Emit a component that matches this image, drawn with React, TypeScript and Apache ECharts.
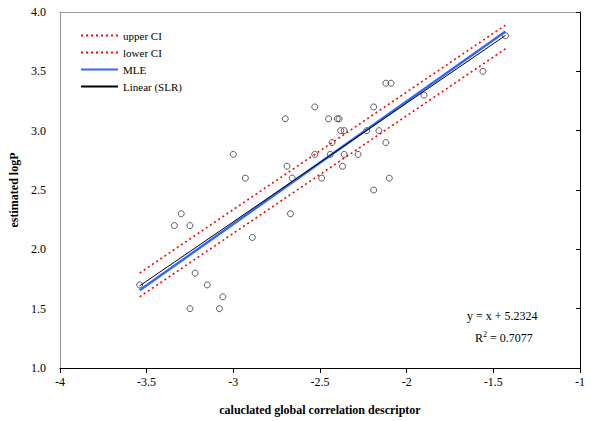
import React, { useEffect, useRef } from "react";
import * as echarts from "echarts";

const observedX = [
  -3.54, -3.30, -3.34, -3.25, -3.22, -3.15, -3.06, -3.25, -3.08, -3.00,
  -2.93, -2.89, -2.69, -2.66, -2.67, -2.70, -2.53, -2.53, -2.49, -2.45,
  -2.40, -2.39, -2.43, -2.44, -2.38, -2.36, -2.36, -2.37, -2.28, -2.23,
  -2.16, -2.19, -2.19, -2.12, -2.09, -2.12, -2.10, -1.90, -1.56, -1.43,
];
const observedY = [
  1.70, 2.30, 2.20, 2.20, 1.80, 1.70, 1.60, 1.50, 1.50, 2.80,
  2.60, 2.10, 2.70, 2.60, 2.30, 3.10, 3.20, 2.80, 2.60, 3.10,
  3.10, 3.10, 2.90, 2.80, 3.00, 3.00, 2.80, 2.70, 2.80, 3.00,
  3.00, 3.20, 2.50, 3.40, 3.40, 2.90, 2.60, 3.30, 3.50, 3.80,
];

const lineX = [-3.54, -1.43];
const upperCI = [1.80, 3.89];
const lowerCI = [1.60, 3.69];
const mle = [1.655, 3.835];
const slr = [1.692, 3.802];

const xTicks = [-4, -3.5, -3, -2.5, -2, -1.5, -1];
const yTicks = [1.0, 1.5, 2.0, 2.5, 3.0, 3.5, 4.0];

const equationText = "y = x + 5.2324";
const r2Value = "0.7077";

const FONT = "'Liberation Serif', 'Times New Roman', serif";

export default function App() {
  const ref = useRef<HTMLDivElement>(null);

  useEffect(() => {
    if (!ref.current) return;
    const chart = echarts.init(ref.current, undefined, { renderer: "svg" });
    const pairs = (ys: number[]) => lineX.map((x, i) => [x, ys[i]]);
    const scatter = observedX.map((x, i) => [x, observedY[i]]);

    chart.setOption({
      animation: false,
      backgroundColor: "#ffffff",
      textStyle: { fontFamily: FONT },
      grid: { left: 58, right: 11, top: 12, bottom: 52, containLabel: false },
      legend: {
        data: ["upper CI", "lower CI", "MLE", "Linear (SLR)"],
        orient: "vertical",
        left: 75,
        top: 25,
        itemWidth: 37,
        itemHeight: 12,
        itemGap: 6,
        itemStyle: { opacity: 0, borderWidth: 0 },
        textStyle: { fontFamily: FONT, fontSize: 11, color: "#000" },
      },
      xAxis: [
        {
          type: "value",
          min: xTicks[0],
          max: xTicks[xTicks.length - 1],
          interval: 0.5,
          name: "caluclated global correlation descriptor",
          nameLocation: "middle",
          nameGap: 36,
          nameTextStyle: { fontFamily: FONT, fontSize: 12, fontWeight: "bold", color: "#000" },
          axisLine: { show: true, lineStyle: { color: "#000", width: 1 } },
          axisTick: { show: true, inside: false, length: 5, lineStyle: { color: "#000" } },
          axisLabel: { fontFamily: FONT, fontSize: 12, color: "#000", margin: 8 },
          splitLine: { show: false },
        },
        {
          type: "value",
          position: "top",
          min: xTicks[0],
          max: xTicks[xTicks.length - 1],
          axisLine: { show: true, lineStyle: { color: "#999", width: 1 } },
          axisTick: { show: false },
          axisLabel: { show: false },
          splitLine: { show: false },
        },
      ],
      yAxis: [
        {
          type: "value",
          min: yTicks[0],
          max: yTicks[yTicks.length - 1],
          interval: 0.5,
          name: "estimated logP",
          nameLocation: "middle",
          nameGap: 28,
          nameRotate: 90,
          nameTextStyle: { fontFamily: FONT, fontSize: 12, fontWeight: "bold", color: "#000" },
          axisLine: { show: true, lineStyle: { color: "#999", width: 1 } },
          axisTick: { show: false },
          axisLabel: {
            fontFamily: FONT,
            fontSize: 12,
            color: "#000",
            margin: 14,
            formatter: (v: number) => v.toFixed(1),
          },
          splitLine: { show: false },
        },
        {
          type: "value",
          position: "right",
          min: yTicks[0],
          max: yTicks[yTicks.length - 1],
          interval: 0.5,
          axisLine: { show: true, lineStyle: { color: "#000", width: 1 } },
          axisTick: { show: true, inside: true, length: 4, lineStyle: { color: "#000" } },
          axisLabel: { show: false },
          splitLine: { show: false },
        },
      ],
      graphic: [
        {
          type: "text",
          left: 467,
          top: 310,
          style: { text: equationText, font: `12px ${FONT}`, fill: "#000" },
        },
        {
          type: "text",
          left: 475,
          top: 330,
          style: {
            text: "{a|R}{b|2}{a| = " + r2Value + "}",
            rich: {
              a: { font: `12px ${FONT}`, fill: "#000", verticalAlign: "bottom" },
              b: { font: `8px ${FONT}`, fill: "#000", verticalAlign: "top", padding: [0, 0, 6, 0] },
            },
          },
        },
      ],
      series: [
        {
          name: "observed",
          type: "scatter",
          data: scatter,
          symbol: "circle",
          symbolSize: 6,
          itemStyle: { color: "rgba(255,255,255,0)", borderColor: "#333", borderWidth: 1 },
          z: 2,
        },
        {
          name: "upper CI",
          type: "line",
          data: pairs(upperCI),
          symbol: "none",
          lineStyle: { color: "#ff0000", width: 1.6, type: [2, 3] },
          itemStyle: { color: "#ff0000" },
          z: 3,
        },
        {
          name: "lower CI",
          type: "line",
          data: pairs(lowerCI),
          symbol: "none",
          lineStyle: { color: "#ff0000", width: 1.6, type: [2, 3] },
          itemStyle: { color: "#ff0000" },
          z: 3,
        },
        {
          name: "MLE",
          type: "line",
          data: pairs(mle),
          symbol: "none",
          lineStyle: { color: "#3366ff", width: 2.5, type: "solid" },
          itemStyle: { color: "#3366ff" },
          z: 4,
        },
        {
          name: "Linear (SLR)",
          type: "line",
          data: pairs(slr),
          symbol: "none",
          lineStyle: { color: "#000", width: 1, type: "solid" },
          itemStyle: { color: "#000" },
          z: 5,
        },
      ],
    });

    return () => chart.dispose();
  }, []);

  return <div ref={ref} style={{ width: 591, height: 421, position: "absolute", left: 0, top: 0 }} />;
}
